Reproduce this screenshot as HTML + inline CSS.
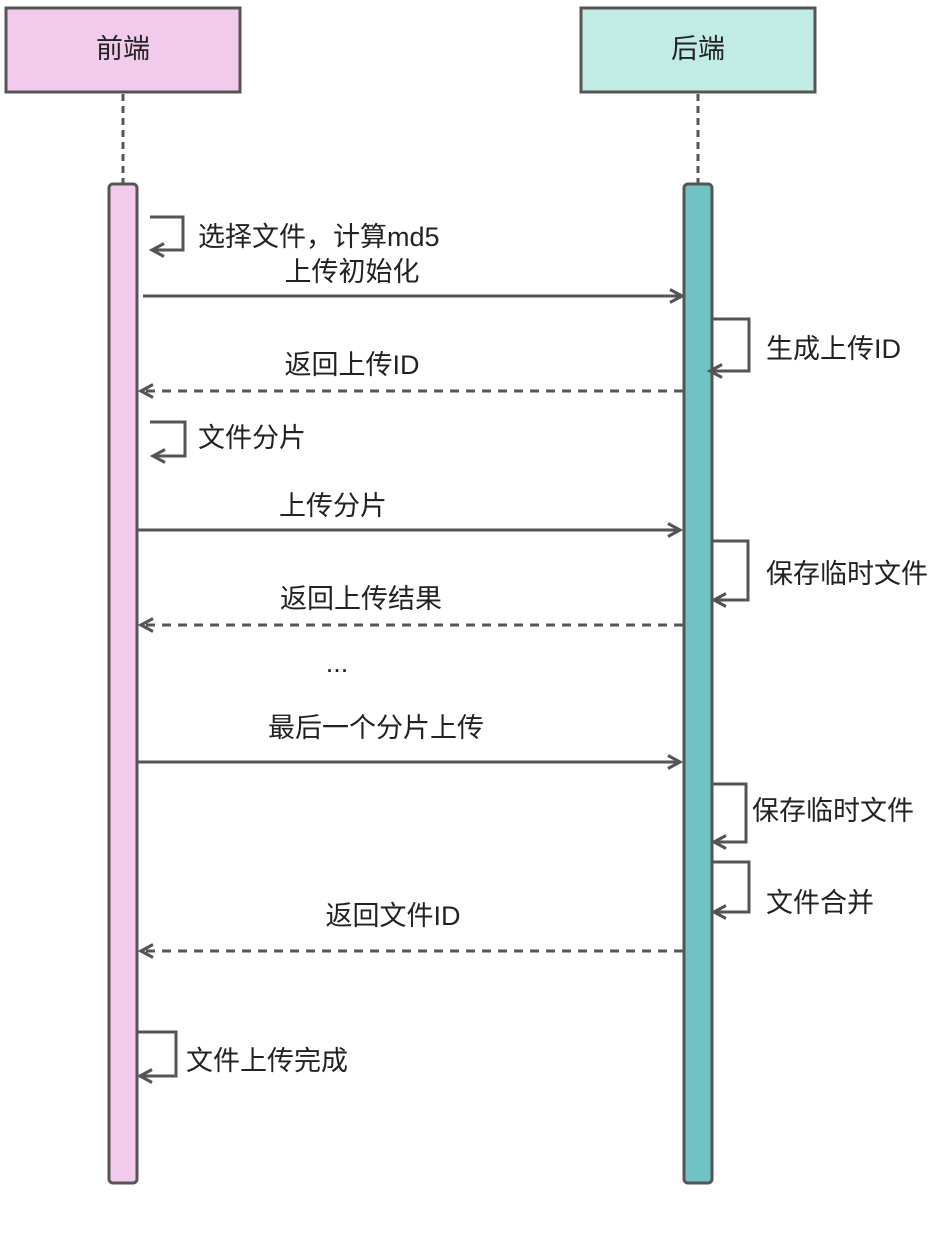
<!DOCTYPE html>
<html><head><meta charset="utf-8"><style>
html,body{margin:0;padding:0;background:#fff}
svg text{font-family:"Liberation Sans","Noto Sans CJK SC",sans-serif;font-size:27px;fill:#222}
</style></head><body>
<svg width="947" height="1255" viewBox="0 0 947 1255" xmlns="http://www.w3.org/2000/svg">
<defs>
<marker id="a" markerWidth="16" markerHeight="16" refX="13" refY="8" orient="auto" markerUnits="userSpaceOnUse">
<path d="M1,1.5 L13,8 L1,14.5" fill="none" stroke="#555" stroke-width="3"/>
</marker>
</defs>
<g stroke="#555" stroke-width="3">
<rect x="6" y="8" width="234" height="84" fill="#f2cbec"/>
<rect x="581" y="8" width="234" height="84" fill="#c1ebe5"/>
<line x1="123" y1="94" x2="123" y2="184" stroke-dasharray="7,5"/>
<line x1="698" y1="94" x2="698" y2="184" stroke-dasharray="7,5"/>
<rect x="109" y="184" width="28" height="999" rx="4" fill="#f2cbec"/>
<rect x="684" y="184" width="28" height="999" rx="4" fill="#6fc3c4"/>
</g>
<text x="123" y="58" text-anchor="middle">前端</text>
<text x="698" y="58" text-anchor="middle">后端</text>
<g stroke="#555" stroke-width="3" fill="none" marker-end="url(#a)">
<polyline points="150,217 183,217 183,250 152,250"/>
<line x1="143" y1="296" x2="682" y2="296"/>
<polyline points="713,319 749,319 749,371 710,371"/>
<line x1="683" y1="391" x2="141" y2="391" stroke-dasharray="9,7"/>
<polyline points="150,422 185,422 185,456 153,456"/>
<line x1="138" y1="530" x2="680" y2="530"/>
<polyline points="713,541 748,541 748,600 714,600"/>
<line x1="683" y1="625" x2="141" y2="625" stroke-dasharray="9,7"/>
<line x1="138" y1="762" x2="680" y2="762"/>
<polyline points="713,784 746,784 746,842 714,842"/>
<polyline points="713,862 749,862 749,912 714,912"/>
<line x1="683" y1="951" x2="141" y2="951" stroke-dasharray="9,7"/>
<polyline points="138,1032 176,1032 176,1076 140,1076"/>
</g>
<text x="198" y="246">选择文件，计算md5</text>
<text x="352" y="281" text-anchor="middle">上传初始化</text>
<text x="766" y="358">生成上传ID</text>
<text x="352" y="374" text-anchor="middle">返回上传ID</text>
<text x="198" y="447">文件分片</text>
<text x="333" y="515" text-anchor="middle">上传分片</text>
<text x="766" y="583">保存临时文件</text>
<text x="361" y="608" text-anchor="middle">返回上传结果</text>
<text x="337" y="672" text-anchor="middle">...</text>
<text x="376" y="737" text-anchor="middle">最后一个分片上传</text>
<text x="752" y="820">保存临时文件</text>
<text x="766" y="912">文件合并</text>
<text x="393" y="925" text-anchor="middle">返回文件ID</text>
<text x="186" y="1070">文件上传完成</text>
</svg>
</body></html>
